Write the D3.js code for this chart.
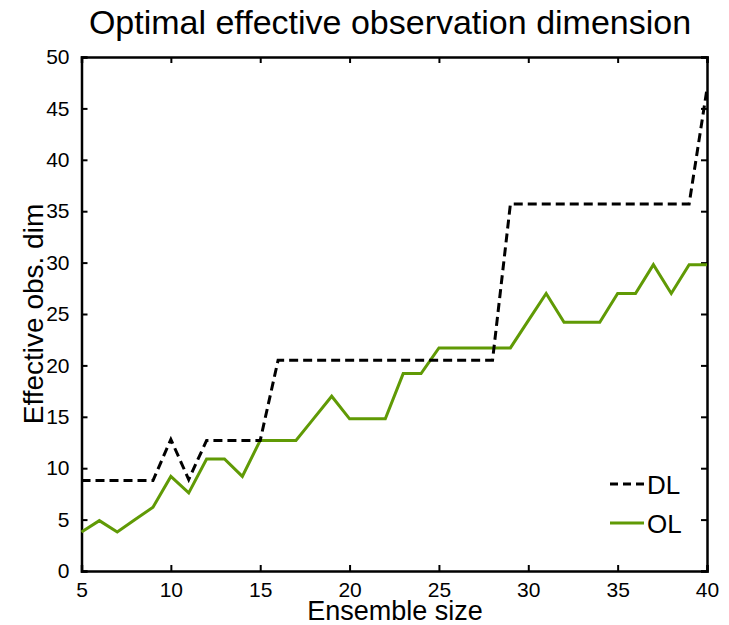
<!DOCTYPE html>
<html>
<head>
<meta charset="utf-8">
<script src="https://cdn.jsdelivr.net/npm/d3@7"></script>
<style>
  html, body { margin: 0; padding: 0; background: #fff; }
  svg { display: block; font-family: "Liberation Sans", Arial, Helvetica, sans-serif; }
</style>
</head>
<body>
<svg id="chart" width="729" height="625"></svg>
<script>
// Ensemble sizes on the x axis
const ensembleSizes = [5,6,7,8,9,10,11,12,13,14,15,16,17,18,19,20,21,22,23,24,25,26,27,28,29,30,31,32,33,34,35,36,37,38,39,40];

// Optimal effective observation dimension, DL localisation
const dlValues = [8.8,8.8,8.8,8.8,8.8,12.8,8.9,12.7,12.7,12.7,12.7,20.5,20.5,20.5,20.5,20.5,20.5,20.5,20.5,20.5,20.5,20.5,20.5,20.5,35.7,35.7,35.7,35.7,35.7,35.7,35.7,35.7,35.7,35.7,35.7,46.9];

// Optimal effective observation dimension, OL localisation
const olValues = [3.8,4.9,3.8,5.0,6.2,9.2,7.6,10.9,10.9,9.2,12.7,12.7,12.7,14.85,17.0,14.8,14.8,14.8,19.2,19.2,21.7,21.7,21.7,21.7,21.7,24.35,27.0,24.2,24.2,24.2,27.0,27.0,29.8,27.0,29.8,29.8];

const xTicks = [5,10,15,20,25,30,35,40];
const yTicks = [0,5,10,15,20,25,30,35,40,45,50];

const seriesNames = ["DL", "OL"];
const seriesColors = ["#000000", "#609a05"];

const svg = d3.select("#chart");
const plotLeft = 81.5, plotRight = 707, plotTop = 57, plotBottom = 571;

const x = d3.scaleLinear().domain([5, 40]).range([plotLeft, plotRight]);
const y = d3.scaleLinear().domain([0, 50]).range([plotBottom, plotTop]);

// Title
svg.append("text")
  .attr("x", 390).attr("y", 34)
  .attr("text-anchor", "middle")
  .attr("font-size", 34)
  .text("Optimal effective observation dimension");

// Axes: ticks point inward on all four sides
const tickLen = 6;
const axisBottom = svg.append("g").attr("transform", `translate(0,${plotBottom})`)
  .call(d3.axisBottom(x).tickValues(xTicks).tickSize(-tickLen).tickPadding(11).tickFormat(d3.format("d")));
const axisTop = svg.append("g").attr("transform", `translate(0,${plotTop})`)
  .call(d3.axisTop(x).tickValues(xTicks).tickSize(-tickLen).tickFormat(""));
const axisLeft = svg.append("g").attr("transform", `translate(${plotLeft},0)`)
  .call(d3.axisLeft(y).tickValues(yTicks).tickSize(-tickLen).tickPadding(12).tickFormat(d3.format("d")));
const axisRight = svg.append("g").attr("transform", `translate(${plotRight},0)`)
  .call(d3.axisRight(y).tickValues(yTicks).tickSize(-tickLen).tickFormat(""));

[axisBottom, axisTop, axisLeft, axisRight].forEach(g => {
  g.select(".domain").attr("stroke", "#000").attr("stroke-width", 2.5);
  g.selectAll(".tick line").attr("stroke", "#000").attr("stroke-width", 2);
  g.selectAll(".tick text").attr("font-size", 21).attr("fill", "#000")
    .attr("font-family", "Liberation Sans, Arial, sans-serif");
});

// Axis labels
svg.append("text")
  .attr("x", 395).attr("y", 620)
  .attr("text-anchor", "middle")
  .attr("font-size", 27)
  .text("Ensemble size");

svg.append("text")
  .attr("transform", `translate(43,${(plotTop + plotBottom) / 2}) rotate(-90)`)
  .attr("text-anchor", "middle")
  .attr("font-size", 28)
  .text("Effective obs. dim");

// Lines
const line = d3.line().x((d, i) => x(ensembleSizes[i])).y(d => y(d));

svg.append("path")
  .datum(olValues)
  .attr("fill", "none")
  .attr("stroke", seriesColors[1])
  .attr("stroke-width", 3)
  .attr("stroke-linejoin", "miter")
  .attr("d", line);

svg.append("path")
  .datum(dlValues)
  .attr("fill", "none")
  .attr("stroke", seriesColors[0])
  .attr("stroke-width", 3)
  .attr("stroke-dasharray", "9,5")
  .attr("d", line);

// Legend
const legend = svg.append("g");
const legendRows = [
  { name: seriesNames[0], color: seriesColors[0], dash: "8,5", yLine: 484, yText: 494 },
  { name: seriesNames[1], color: seriesColors[1], dash: null, yLine: 523, yText: 533 }
];
legendRows.forEach(r => {
  legend.append("line")
    .attr("x1", 610).attr("x2", 644)
    .attr("y1", r.yLine).attr("y2", r.yLine)
    .attr("stroke", r.color).attr("stroke-width", 3)
    .attr("stroke-dasharray", r.dash);
  legend.append("text")
    .attr("x", 647).attr("y", r.yText)
    .attr("font-size", 26)
    .text(r.name);
});
</script>
</body>
</html>
